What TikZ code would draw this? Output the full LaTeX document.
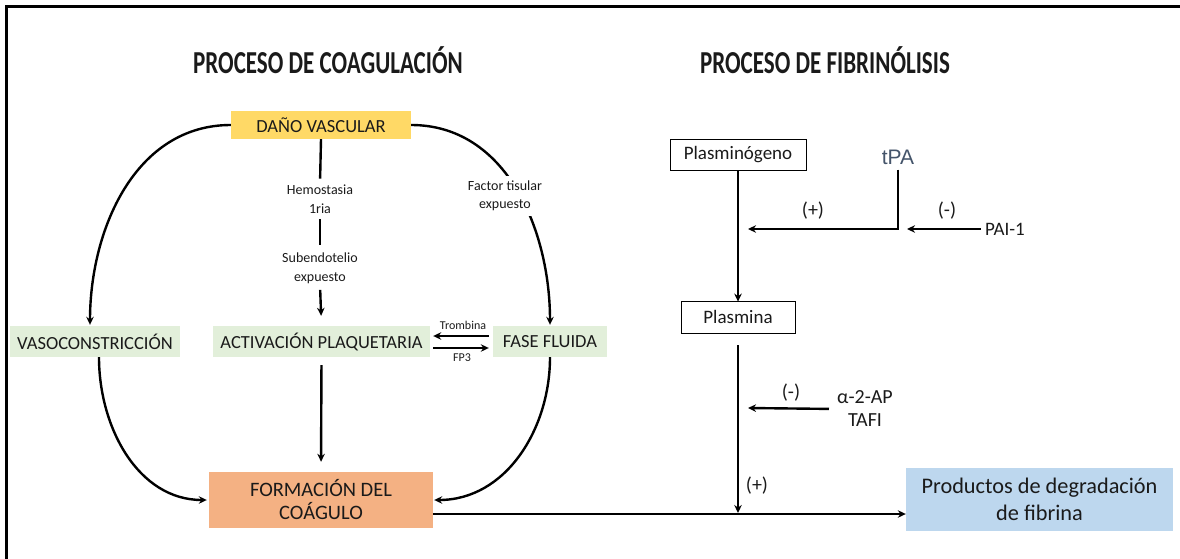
\documentclass[tikz,border=0pt]{standalone}
\usepackage{fontspec}
\setmainfont{Carlito}
\newfontfamily\arialf{Liberation Sans}
\usetikzlibrary{arrows.meta}
\definecolor{cyel}{HTML}{FFD966}
\definecolor{cgrn}{HTML}{E2EFDA}
\definecolor{corg}{HTML}{F4B183}
\definecolor{cblu}{HTML}{BDD7EE}
\definecolor{ctpa}{HTML}{44546A}
\definecolor{ctxt}{HTML}{1A1A1A}
\begin{document}
\begin{tikzpicture}[x=1pt,y=-1pt,
  every node/.style={text=ctxt, inner sep=0pt},
  conn/.style={line width=2.4pt, draw=black},
  arr/.style={conn, -{Stealth[length=8pt,width=7.5pt]}},
  cbox/.style={minimum height=31pt, font=\fontsize{18.5}{21}\selectfont, align=center},
  lbl/.style={font=\fontsize{14}{18.5}\selectfont, align=center, fill=white, inner sep=1pt},
  sml/.style={font=\fontsize{12}{14}\selectfont},
  sign/.style={font=\fontsize{20}{22}\selectfont},
  ttl/.style={font=\bfseries}
]
\useasboundingbox (0,0) rectangle (1180,559);
\draw[line width=2.6pt] (6.5,559) -- (6.5,6.5) -- (1180,6.5);

% titles
\node[ttl] (t1) at (328,60) {\scalebox{0.72}[1]{\fontsize{32}{32}\selectfont PROCESO DE COAGULACIÓN}};
\node[ttl] (t2) at (825,60) {\scalebox{0.72}[1]{\fontsize{32}{32}\selectfont PROCESO DE FIBRINÓLISIS}};

% coagulation boxes
\node[cbox, fill=cyel, minimum width=180pt, minimum height=28pt] (dv) at (321,125) {DAÑO VASCULAR};
\node[cbox, fill=cgrn, minimum width=170pt] (vaso) at (95,341.5) {VASOCONSTRICCIÓN};
\node[cbox, fill=cgrn, minimum width=217pt] (act) at (321.5,341.5) {ACTIVACIÓN PLAQUETARIA};
\node[cbox, fill=cgrn, minimum width=114pt] (fase) at (550,341.5) {FASE FLUIDA};
\node[cbox, fill=corg, minimum width=224pt, minimum height=56pt, font=\fontsize{20.5}{23}\selectfont] (form) at (321,500) {FORMACIÓN DEL\\COÁGULO};

% labels on the central path
\node[lbl] (hemo) at (320,199) {Hemostasia\\1ria};
\node[lbl] (sub) at (320,268.5) {Subendotelio\\expuesto};

% connectors
\draw[arr, shorten >=1pt] (dv.west) to[out=180,in=90] ([xshift=-5pt]vaso.north) ;
\draw[arr, shorten >=1pt] (dv.east) to[out=0,in=90] (fase.north);
\node[lbl, inner sep=5pt] (fact) at (505,196) {Factor tisular\\expuesto};
\draw[conn, shorten >=5pt] (dv.south) -- (hemo.north);
\draw[conn, shorten <=5pt, shorten >=7pt] (hemo.south) -- (sub.north);
\draw[arr, shorten <=5pt, shorten >=10pt] (sub.south) -- (act.north);

\draw[arr, shorten >=2pt] ([xshift=4pt]vaso.south) to[out=-90,in=180] (form.west);
\draw[arr, shorten <=8pt, shorten >=10pt] (act.south) -- (form.north);
\draw[arr, shorten >=1pt] (fase.south) to[out=-90,in=0] (form.east);

\draw[arr, line width=2pt, shorten <=4pt, shorten >=3pt] ([yshift=5.5pt]fase.west) -- ([yshift=5.5pt]act.east);
\draw[arr, line width=2pt, shorten <=3pt, shorten >=4pt] ([yshift=-6.5pt]act.east) -- ([yshift=-6.5pt]fase.west);
\node[sml] (trom) at (463,325) {Trombina};
\node[sml] (fp3) at (462,358) {FP3};

% fibrinolysis
\node[draw=black, line width=0.8pt, minimum width=136pt, minimum height=31pt, inner sep=0pt, font=\fontsize{19}{22}\selectfont] (plg) at (738,154.5) {Plasminógeno};
\node[draw=black, line width=0.8pt, minimum width=114pt, minimum height=32pt, inner sep=0pt, font=\fontsize{19}{22}\selectfont] (pla) at (738,317) {Plasmina};
\node[font=\arialf\fontsize{21}{24}\selectfont, text=ctpa] (tpa) at (898,157) {tPA};
\node[font=\fontsize{19}{22}\selectfont] (pai) at (1005,229) {PAI-1};
\node[font=\fontsize{20}{23}\selectfont, align=center] (a2ap) at (865,409) {α-2-AP\\TAFI};
\node[cbox, fill=cblu, minimum width=267pt, minimum height=63pt, font=\fontsize{22.3}{26.5}\selectfont] (prod) at (1039.5,499.5) {Productos de degradación\\de fibrina};

\coordinate (c1) at (748,229);
\coordinate (c2) at (907,229);
\coordinate (c3) at (748,408);
\coordinate (j) at (738,514);

\draw[arr] (plg.south) -- ([yshift=-1pt]pla.north);
\draw[arr, shorten <=5pt] (tpa.south) |- (c1);
\draw[arr, shorten <=4pt] (pai.west) -- (c2);
\draw[arr, shorten <=8pt] (a2ap.west) -- (c3);
\draw[arr, shorten <=12pt, shorten >=1pt] (pla.south) -- (j);
\draw[arr] (form.east |- j) -- (prod.west |- j);

\node[sign] (p1) at (813,211) {(+)};
\node[sign] (m1) at (947,211) {(-)};
\node[sign] (m2) at (791,393) {(-)};
\node[sign] (p2) at (757,486) {(+)};
\end{tikzpicture}
\end{document}
